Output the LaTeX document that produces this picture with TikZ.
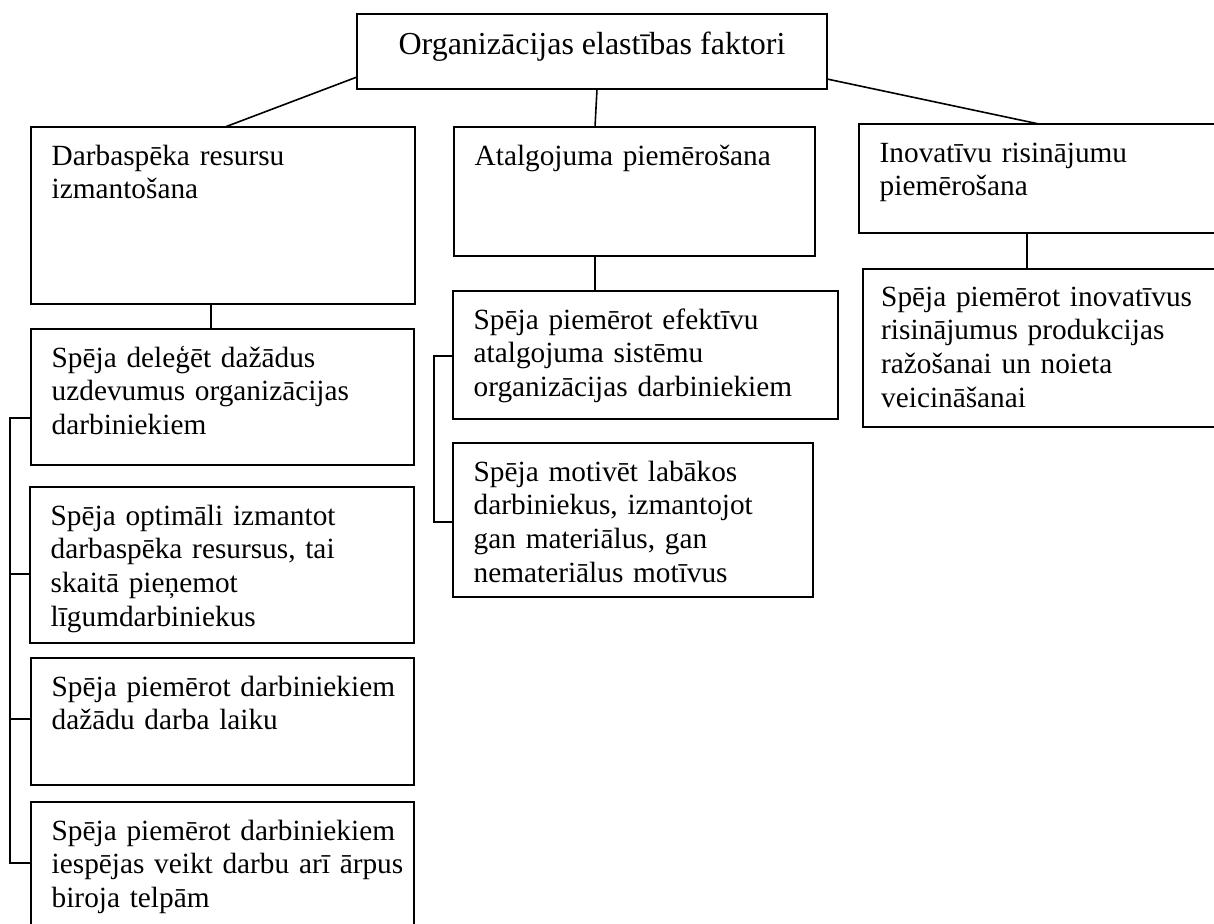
\documentclass[tikz,border=0pt]{standalone}
\usepackage{fontspec}
\setmainfont{Liberation Serif}
\begin{document}
\begin{tikzpicture}[x=1pt,y=-1pt,
  box/.style={draw, line width=2.1pt, inner sep=0pt, outer sep=0pt, anchor=north west},
  link/.style={line width=1.6pt},
  txt/.style={anchor=north west, inner sep=0pt, align=left, text width=#1,
              font=\fontsize{29.3}{33.6}\selectfont},
  txt/.default=360pt,
  intext/.style={shift={(20.5pt,-14.5pt)}}
]
\useasboundingbox (0,0) rectangle (1214,923);
\fill[white] (0,0) rectangle (1214,923);
\clip (0,0) rectangle (1214,923);

% top node
\node[box, minimum width=470pt, minimum height=75pt] (T) at (357,14) {};
\node[anchor=base, inner sep=0pt, font=\fontsize{32}{38}\selectfont] (Tt)
  at ([yshift=-3.5pt]T.center) {Organizācijas elastības faktori};

% first level
\node[box, minimum width=384pt, minimum height=177pt] (A1) at (31,127) {};
\node[box, minimum width=361pt, minimum height=129pt] (A2) at (454,127) {};
\node[box, minimum width=380pt, minimum height=109pt] (A3) at (859,124) {};
\node[txt] (A1t) at ([intext]A1.north west) {\strut Darbaspēka resursu\\izmantošana};
\node[txt] (A2t) at ([intext]A2.north west) {\strut Atalgojuma piemērošana};
\node[txt] (A3t) at ([intext]A3.north west) {\strut Inovatīvu risinājumu\\piemērošana};

% left column
\node[box, minimum width=383pt, minimum height=136pt] (B1) at (31,329) {};
\node[box, minimum width=384pt, minimum height=156pt] (B2) at (30,487) {};
\node[box, minimum width=383pt, minimum height=127pt] (B3) at (31,658) {};
\node[box, minimum width=383pt, minimum height=140pt] (B4) at (31,802) {};
\node[txt] (B1t) at ([intext]B1.north west) {\strut Spēja deleģēt dažādus\\uzdevumus organizācijas\\darbiniekiem};
\node[txt] (B2t) at ([intext]B2.north west) {\strut Spēja optimāli izmantot\\darbaspēka resursus, tai\\skaitā pieņemot\\līgumdarbiniekus};
\node[txt] (B3t) at ([intext]B3.north west) {\strut Spēja piemērot darbiniekiem\\dažādu darba laiku};
\node[txt] (B4t) at ([intext]B4.north west) {\strut Spēja piemērot darbiniekiem\\iespējas veikt darbu arī ārpus\\biroja telpām};

% middle column
\node[box, minimum width=385pt, minimum height=128pt] (C1) at (453,291) {};
\node[box, minimum width=360pt, minimum height=154pt] (C2) at (453,443) {};
\node[txt] (C1t) at ([intext]C1.north west) {\strut Spēja piemērot efektīvu\\atalgojuma sistēmu\\organizācijas darbiniekiem};
\node[txt] (C2t) at ([intext]C2.north west) {\strut Spēja motivēt labākos\\darbiniekus, izmantojot\\gan materiālus, gan\\nemateriālus motīvus};

% right column
\node[box, minimum width=380pt, minimum height=158pt] (D1) at (863,269) {};
\node[txt] (D1t) at ([shift={(18pt,-13.5pt)}]D1.north west) {\strut Spēja piemērot inovatīvus\\risinājumus produkcijas\\ražošanai un noieta\\veicināšanai};

% connectors from the top node
\draw[link] ([yshift=-25.5pt]T.west) -- ([xshift=194pt]A1.north west);
\draw[link] ([xshift=240pt]T.south west) -- ([xshift=141pt]A2.north west);
\draw[link] ([yshift=-27.5pt]T.east) -- ([xshift=180pt]A3.north west);

% connectors to the second level
\draw[link] ([xshift=180pt]A1.south west) -- ([xshift=180pt]B1.north west);
\draw[link] ([xshift=141pt]A2.south west) -- ([xshift=142pt]C1.north west);
\draw[link] ([xshift=168pt]A3.south west) -- ([xshift=164pt]D1.north west);

% left bracket
\draw[link] ([yshift=-89pt]B1.north west) -- ++(-21,0)
  |- ([yshift=-61pt]B4.north west);
\draw[link] ([yshift=-87pt]B2.north west) -- ++(-20,0);
\draw[link] ([yshift=-61pt]B3.north west) -- ++(-21,0);

% middle bracket
\draw[link] ([yshift=-65pt]C1.north west) -- ++(-19,0)
  |- ([yshift=-79pt]C2.north west);
\end{tikzpicture}
\end{document}
